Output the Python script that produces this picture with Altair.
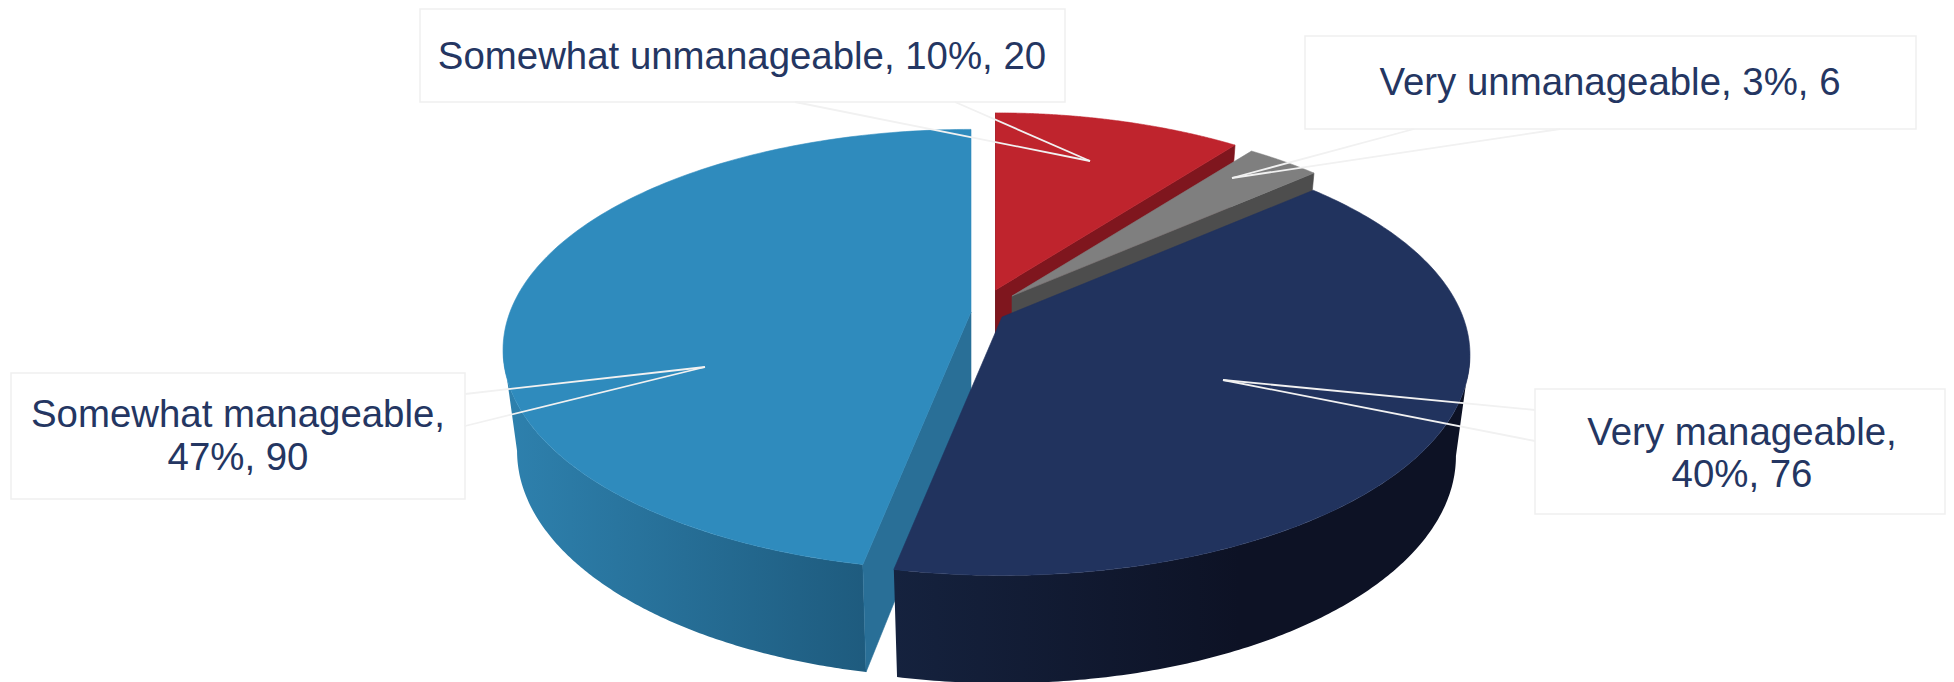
import altair as alt
import numpy as np
import pandas as pd

# --- chart values -----------------------------------------------------------
categories = ["Somewhat unmanageable", "Very unmanageable", "Very manageable", "Somewhat manageable"]
counts = [20, 6, 76, 90]
percents = [10, 3, 40, 47]
top_colors = ["#BF242D", "#7F7F7F", "#21335E", "#2F8BBD"]
edge_colors = ["#7F161E", "#4D4D4D", "#16223E", "#296F97"]

# apex of each exploded slice on the page and its perspective scale
apex_x = [995.5, 1012, 1002, 971]
apex_y = [290, 296, 317, 312]
slice_scale = [0.97, 0.97, 1.0, 1.0]

# 3D view of the disc
RX, RY, PERSP = 461.0, 214.0, 0.172
WALL, BOTTOM_X, BOTTOM_Y = 100.0, 0.97, 1.03

# callout boxes
box_x1 = [420, 1305, 1535, 11]
box_x2 = [1065, 1916, 1945, 465]
box_y1 = [9, 36, 389, 373]
box_y2 = [102, 129, 514, 499]
text_cx = [742, 1610, 1742, 238]
tip_x = [1090, 1232, 1223, 705]
tip_y = [161, 178, 380, 367]
root_ax = [795, 1414, 1535, 465]
root_ay = [102, 129, 410, 394]
root_bx = [955, 1560, 1535, 465]
root_by = [102, 129, 441, 426]
label_lines = [
    ["Somewhat unmanageable, 10%, 20"],
    ["Very unmanageable, 3%, 6"],
    ["Very manageable,", "40%, 76"],
    ["Somewhat manageable,", "47%, 90"],
]
label_y = [[57], [83], [433, 475], [415, 458]]

TEXT = "#243662"
LEADER = "#F1F1F1"

W, H = 1938, 674
X = alt.X("x:Q", scale=alt.Scale(domain=[8, 1946], nice=False, zero=False), axis=None)
Y = alt.Y("y:Q", scale=alt.Scale(domain=[682, 8], nice=False, zero=False), axis=None)

angles = 90 - np.cumsum([0] + counts) / sum(counts) * 360.0
# rim angles where the disc outline is widest, past which the wall is hidden
wide_right = -np.degrees(np.arcsin(PERSP))
wide_left = -180 + np.degrees(np.arcsin(PERSP))


def project(theta_deg, cx, cy, scale, bottom=False):
    t = np.radians(np.asarray(theta_deg, dtype=float))
    w = 1 + PERSP * np.sin(t)
    px = scale * RX * np.cos(t) / w
    py = -scale * RY * np.sin(t) / w
    if bottom:
        return cx + BOTTOM_X * px, cy + WALL + BOTTOM_Y * py
    return cx + px, cy + py


def poly(xs, ys, fill, stroke=None):
    xs = np.append(xs, xs[0])
    ys = np.append(ys, ys[0])
    df = pd.DataFrame({"x": xs, "y": ys, "i": np.arange(len(xs))})
    kw = {"fill": fill, "strokeWidth": 0.6}
    kw["stroke"] = stroke if stroke else "transparent"
    if not stroke:
        kw["strokeWidth"] = 0
    return alt.Chart(df).mark_line(clip=True, **kw).encode(x=X, y=Y, order=alt.Order("i:Q"))


def gradient(stops):
    return alt.Gradient(
        gradient="linear", x1=0, x2=1, y1=0, y2=0,
        stops=[alt.GradientStop(color=c, offset=o) for o, c in stops],
    )


def top_face(k):
    th = np.linspace(angles[k], angles[k + 1], 160)
    ax, ay = project(th, apex_x[k], apex_y[k], slice_scale[k])
    return poly(np.r_[apex_x[k], ax], np.r_[apex_y[k], ay], top_colors[k], top_colors[k])


def radial_wall(k, theta, color):
    c = slice_scale[k]
    x0, y0 = project([theta], apex_x[k], apex_y[k], c)
    x1, y1 = project([theta], apex_x[k], apex_y[k], c, bottom=True)
    xs = np.array([apex_x[k], x0[0], x1[0], apex_x[k]])
    ys = np.array([apex_y[k], y0[0], y1[0], apex_y[k] + WALL])
    return poly(xs, ys, color, color)


def outer_wall(k, th0, th1, fill):
    th = np.linspace(th0, th1, 160)
    x0, y0 = project(th, apex_x[k], apex_y[k], slice_scale[k])
    x1, y1 = project(th[::-1], apex_x[k], apex_y[k], slice_scale[k], bottom=True)
    return poly(np.r_[x0, x1], np.r_[y0, y1], fill)


layers = [
    # far slices first, nearer ones paint over them
    radial_wall(0, angles[0], "#4A0D12"),
    radial_wall(0, angles[1], edge_colors[0]),
    top_face(0),
    radial_wall(1, angles[2], edge_colors[1]),
    top_face(1),
    outer_wall(3, angles[3], wide_left, gradient([(0, "#2E81AE"), (1, "#1E5B7E")])),
    radial_wall(3, angles[3], edge_colors[3]),
    top_face(3),
    outer_wall(2, angles[3], wide_right, gradient([(0, "#15223E"), (0.6, "#0D1225"), (1, "#0D1225")])),
    top_face(2),
]

# callouts
boxes = pd.DataFrame({"x": box_x1, "x2": box_x2, "y": box_y1, "y2": box_y2})
layers.append(
    alt.Chart(boxes).mark_rect(fill="white", stroke="#F0F0F0", strokeWidth=1.5).encode(
        x=X, x2="x2:Q", y=Y, y2="y2:Q"
    )
)
leader_rows = []
for k in range(len(categories)):
    leader_rows.append({"x": root_ax[k], "y": root_ay[k], "x2": tip_x[k], "y2": tip_y[k]})
    leader_rows.append({"x": root_bx[k], "y": root_by[k], "x2": tip_x[k], "y2": tip_y[k]})
layers.append(
    alt.Chart(pd.DataFrame(leader_rows)).mark_rule(color=LEADER, strokeWidth=1.8).encode(
        x=X, x2="x2:Q", y=Y, y2="y2:Q"
    )
)
text_rows = []
for k in range(len(categories)):
    for line, yy in zip(label_lines[k], label_y[k]):
        text_rows.append({"x": text_cx[k], "y": yy, "t": line})
layers.append(
    alt.Chart(pd.DataFrame(text_rows)).mark_text(
        font="Liberation Sans", fontSize=38.4, color=TEXT, align="center", baseline="middle"
    ).encode(x=X, y=Y, text="t:N")
)

chart = alt.layer(*layers).properties(
    width=W, height=H, padding=0, autosize=alt.AutoSizeParams(type="none"),
    background="white",
).configure_view(stroke=None)

chart.save("out.html", embed_options={"renderer": "svg", "actions": False})
